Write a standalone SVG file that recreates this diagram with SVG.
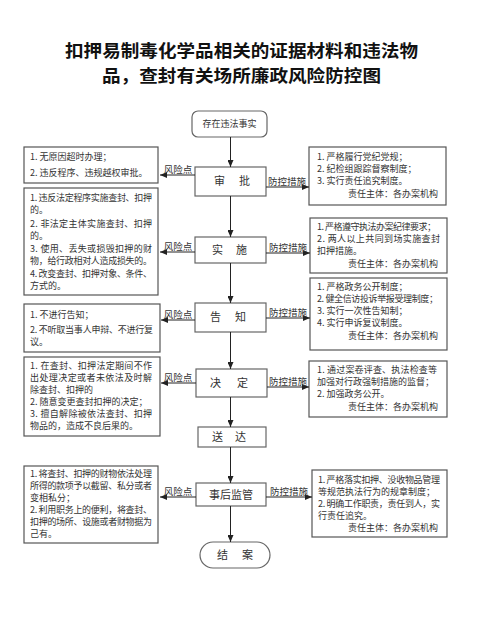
<svg xmlns="http://www.w3.org/2000/svg" width="481" height="637" viewBox="0 0 481 637">
<defs>
<marker id="ah" markerUnits="userSpaceOnUse" markerWidth="7" markerHeight="6" refX="7" refY="3" orient="auto">
<path d="M0,0 L7,3 L0,6 z" fill="#222"/>
</marker>
<style>
.title{font-family:"Noto Sans CJK SC",sans-serif;font-size:17.5px;font-weight:700;fill:#111}
.box{fill:#fff;stroke:#555;stroke-width:1.2}
.node{fill:#fff;stroke:#666;stroke-width:1.2}
.t{font-family:"Noto Sans CJK SC",sans-serif;font-size:9px;fill:#333}
.nt{font-family:"Noto Sans CJK SC",sans-serif;font-size:11px;fill:#333}
.lab{font-family:"Noto Sans CJK SC",sans-serif;font-size:9.5px;fill:#333;text-anchor:middle}
.ln{stroke:#222;stroke-width:1;fill:none;marker-end:url(#ah)}
</style>
</defs>
<rect width="481" height="637" fill="#fff"/>
<text class="title" x="65" y="57" textLength="353" lengthAdjust="spacingAndGlyphs">扣押易制毒化学品相关的证据材料和违法物</text>
<text class="title" x="102" y="82" textLength="279" lengthAdjust="spacingAndGlyphs">品，查封有关场所廉政风险防控图</text>

<g id="start"><rect class="node" x="192" y="111" width="75" height="26" rx="6"/><text class="t" x="229.5" y="127" text-anchor="middle" font-size="8.5">存在违法事实</text></g>
<g id="shenpi"><rect class="node" x="195" y="167" width="71" height="29"/><text class="nt" x="214 239" y="185">审批</text></g>
<g id="shishi"><rect class="node" x="195" y="237" width="71" height="26"/><text class="nt" x="212 236" y="254">实施</text></g>
<g id="gaozhi"><rect class="node" x="195" y="303" width="71" height="29"/><text class="nt" x="210 235" y="321">告知</text></g>
<g id="jueding"><rect class="node" x="196" y="369" width="71" height="28"/><text class="nt" x="210 237" y="387">决定</text></g>
<g id="songda"><rect class="node" x="198" y="427" width="68" height="20"/><text class="nt" x="212 235" y="441">送达</text></g>
<g id="shihou"><rect class="node" x="196" y="483" width="70" height="23"/><text class="nt" x="231" y="499" text-anchor="middle" font-size="10">事后监管</text></g>
<g id="jiean"><rect class="node" x="200" y="542" width="70" height="26" rx="13"/><text class="nt" x="217 242" y="559">结案</text></g>

<g id="risk-shenpi"><rect class="box" x="24" y="147" width="134" height="36"/>
<text class="t" x="30" y="160">1. 无原因超时办理；</text>
<text class="t" x="30" y="176">2. 违反程序、违规越权审批。</text></g>

<g id="risk-shishi"><rect class="box" x="24" y="188" width="134" height="107"/>
<text class="t" x="30" y="201" textLength="122">1. 违反法定程序实施查封、扣押</text>
<text class="t" x="30" y="213">的。</text>
<text class="t" x="30" y="227" textLength="122">2. 非法定主体实施查封、扣押</text>
<text class="t" x="30" y="239">的。</text>
<text class="t" x="30" y="252" textLength="122">3. 使用、丢失或损毁扣押的财</text>
<text class="t" x="30" y="264" textLength="122">物，给行政相对人造成损失的。</text>
<text class="t" x="30" y="277" textLength="122">4. 改变查封、扣押对象、条件、</text>
<text class="t" x="30" y="289">方式的。</text></g>

<g id="risk-gaozhi"><rect class="box" x="24" y="304" width="136" height="48"/>
<text class="t" x="30" y="318">1. 不进行告知；</text>
<text class="t" x="30" y="333" textLength="123">2. 不听取当事人申辩、不进行复</text>
<text class="t" x="30" y="345">议。</text></g>

<g id="risk-jueding"><rect class="box" x="24" y="357" width="136" height="79"/>
<text class="t" x="30" y="369" textLength="122">1. 在查封、扣押法定期间不作</text>
<text class="t" x="30" y="381" textLength="122">出处理决定或者未依法及时解</text>
<text class="t" x="30" y="393">除查封、扣押的</text>
<text class="t" x="30" y="405">2. 随意变更查封扣押的决定；</text>
<text class="t" x="30" y="417" textLength="122">3. 擅自解除被依法查封、扣押</text>
<text class="t" x="30" y="429">物品的，造成不良后果的。</text></g>

<g id="risk-shihou"><rect class="box" x="24" y="466" width="134" height="77"/>
<text class="t" x="30" y="477" textLength="122">1. 将查封、扣押的财物依法处理</text>
<text class="t" x="30" y="489" textLength="122">所得的款项予以截留、私分或者</text>
<text class="t" x="30" y="501">变相私分；</text>
<text class="t" x="30" y="513" textLength="122">2. 利用职务上的便利，将查封、</text>
<text class="t" x="30" y="525" textLength="122">扣押的场所、设施或者财物据为</text>
<text class="t" x="30" y="537">己有。</text></g>

<g id="ctrl-shenpi"><rect class="box" x="309" y="147" width="137" height="58"/>
<text class="t" x="317" y="160">1. 严格履行党纪党规；</text>
<text class="t" x="317" y="172">2. 纪检组跟踪督察制度；</text>
<text class="t" x="317" y="184">3. 实行责任追究制度。</text>
<text class="t" x="438" y="197" text-anchor="end">责任主体：各办案机构</text></g>

<g id="ctrl-shishi"><rect class="box" x="310" y="218" width="137" height="55"/>
<text class="t" x="317" y="230" textLength="119">1. 严格遵守执法办案纪律要求；</text>
<text class="t" x="317" y="242" textLength="123">2. 两人以上共同到场实施查封</text>
<text class="t" x="317" y="254">扣押措施。</text>
<text class="t" x="438" y="267" text-anchor="end">责任主体：各办案机构</text></g>

<g id="ctrl-gaozhi"><rect class="box" x="310" y="278" width="137" height="72"/>
<text class="t" x="317" y="290">1. 严格政务公开制度；</text>
<text class="t" x="317" y="302" textLength="121">2. 健全信访投诉举报受理制度；</text>
<text class="t" x="317" y="314">3. 实行一次性告知制；</text>
<text class="t" x="317" y="326">4. 实行申诉复议制度。</text>
<text class="t" x="438" y="339" text-anchor="end">责任主体：各办案机构</text></g>

<g id="ctrl-jueding"><rect class="box" x="309" y="361" width="138" height="56"/>
<text class="t" x="317" y="373" textLength="120">1. 通过案卷评查、执法检查等</text>
<text class="t" x="317" y="385">加强对行政强制措施的监督；</text>
<text class="t" x="317" y="397">2. 加强政务公开。</text>
<text class="t" x="438" y="410" text-anchor="end">责任主体：各办案机构</text></g>

<g id="ctrl-shihou"><rect class="box" x="312" y="470" width="135" height="67"/>
<text class="t" x="318" y="483" textLength="122">1. 严格落实扣押、没收物品管理</text>
<text class="t" x="318" y="495">等规范执法行为的规章制度；</text>
<text class="t" x="318" y="507" textLength="122">2. 明确工作职责，责任到人，实</text>
<text class="t" x="318" y="519">行责任追究。</text>
<text class="t" x="438" y="531" text-anchor="end">责任主体：各办案机构</text></g>

<g id="connectors">
<line class="ln" x1="230.5" y1="137" x2="230.5" y2="167"/>
<line class="ln" x1="230.5" y1="196" x2="230.5" y2="237"/>
<line class="ln" x1="230.5" y1="263" x2="230.5" y2="303"/>
<line class="ln" x1="230.5" y1="332" x2="230.5" y2="369"/>
<line class="ln" x1="230.5" y1="397" x2="230.5" y2="427"/>
<line class="ln" x1="230.5" y1="447" x2="230.5" y2="483"/>
<line class="ln" x1="230.5" y1="506" x2="230.5" y2="542"/>

<line class="ln" x1="195" y1="175" x2="160" y2="175"/>
<line class="ln" x1="266" y1="187" x2="309" y2="187"/>
<line class="ln" x1="195" y1="252" x2="160" y2="252"/>
<line class="ln" x1="266" y1="253" x2="310" y2="253"/>
<line class="ln" x1="195" y1="320" x2="161" y2="320"/>
<line class="ln" x1="266" y1="318" x2="310" y2="318"/>
<line class="ln" x1="196" y1="383" x2="161" y2="383"/>
<line class="ln" x1="267" y1="387" x2="309" y2="387"/>
<line class="ln" x1="196" y1="497" x2="160" y2="497"/>
<line class="ln" x1="266" y1="497" x2="312" y2="497"/>

<text class="lab" x="178" y="173">风险点</text>
<text class="lab" x="287" y="185">防控措施</text>
<text class="lab" x="178" y="250">风险点</text>
<text class="lab" x="288" y="251">防控措施</text>
<text class="lab" x="178" y="318">风险点</text>
<text class="lab" x="288" y="316">防控措施</text>
<text class="lab" x="178" y="381">风险点</text>
<text class="lab" x="288" y="385">防控措施</text>
<text class="lab" x="178" y="495">风险点</text>
<text class="lab" x="289" y="495">防控措施</text>
</g>
</svg>
